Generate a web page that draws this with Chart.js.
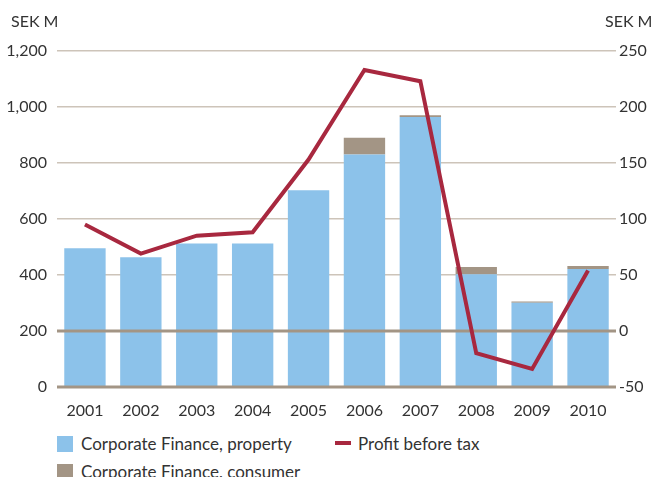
<!DOCTYPE html>
<html><head><meta charset="utf-8">
<script src="https://cdn.jsdelivr.net/npm/chart.js@4/dist/chart.umd.min.js"></script>
<style>
html,body{margin:0;padding:0;background:#fff;width:654px;height:477px;overflow:hidden;font-family:Lato,"Open Sans",sans-serif;}
#wrap{position:absolute;left:0;top:0;width:654px;height:426px;}
.unit{position:absolute;top:11px;font-size:16px;color:#333;}
.leg{position:absolute;font-size:17px;color:#333;white-space:nowrap;}
.sw{display:inline-block;width:16px;height:16px;vertical-align:-2px;margin-right:8px;}
.ln{display:inline-block;width:16px;height:4px;vertical-align:5px;margin-right:7px;}
</style></head>
<body>
<div id="wrap"><canvas id="c"></canvas></div>
<div class="unit" style="left:11px">SEK M</div>
<div class="unit" style="left:605px">SEK M</div>
<div id="legend"></div>
<script>
const categories = ["2001","2002","2003","2004","2005","2006","2007","2008","2009","2010"];
const property = [495, 463, 512, 512, 702, 830, 964, 402, 300, 421];
const consumer = [0, 0, 0, 0, 0, 60, 6, 26, 5, 11];
const profit = [95, 69, 85, 88, 153, 233, 223, -20, -34, 54];
const leftTicks = [0, 200, 400, 600, 800, 1000, 1200];
const rightTicks = [-50, 0, 50, 100, 150, 200, 250];
const emphasisValues = [0, 200];

const BLUE = "#8CC2EA", GREY = "#A39585", RED = "#A8283F";

const emphasis = {
  id: "emphasis",
  beforeDatasetDraw(chart, args) {
    if (args.index !== 2) return;
    const ctx = chart.ctx, ca = chart.chartArea, y = chart.scales.y;
    ctx.save();
    ctx.strokeStyle = GREY;
    ctx.lineWidth = 3;
    emphasisValues.forEach(v => {
      const py = Math.round(y.getPixelForValue(v));
      ctx.beginPath(); ctx.moveTo(ca.left, py); ctx.lineTo(ca.right, py); ctx.stroke();
    });
    ctx.restore();
  }
};

new Chart(document.getElementById("c"), {
  data: {
    labels: categories,
    datasets: [
      {type:"bar", label:"Corporate Finance, property", data: property, backgroundColor: BLUE, stack:"s", yAxisID:"y", order:2, barPercentage:0.74, categoryPercentage:1},
      {type:"bar", label:"Corporate Finance, consumer", data: consumer, backgroundColor: GREY, stack:"s", yAxisID:"y", order:2, barPercentage:0.74, categoryPercentage:1},
      {type:"line", label:"Profit before tax", data: profit, borderColor: RED, borderWidth:4, pointRadius:0, tension:0, yAxisID:"y1", order:0, borderJoinStyle:"miter"}
    ]
  },
  options: {
    responsive:true, maintainAspectRatio:false, animation:false,
    layout:{padding:{top:51, bottom:0, left:0, right:0}},
    plugins:{legend:{display:false}, tooltip:{enabled:false}},
    scales:{
      x:{grid:{display:false}, border:{display:false},
         ticks:{color:"#333", font:{family:"Lato", size:16}, padding:6}},
      y:{position:"left", min:0, max:1200, stacked:true,
         afterBuildTicks(s){ s.ticks = leftTicks.map(v=>({value:v})); },
         afterFit(s){ s.width = 57; },
         grid:{color:"#CDC4B9", lineWidth:1.5, drawTicks:false},
         border:{display:false},
         ticks:{color:"#333", font:{family:"Lato", size:16}, padding:10,
                callback:v=>v.toLocaleString("en-US")}},
      y1:{position:"right", min:-50, max:250,
         afterBuildTicks(s){ s.ticks = rightTicks.map(v=>({value:v})); },
         afterFit(s){ s.width = 38; },
         grid:{display:false, drawTicks:false}, border:{display:false},
         ticks:{color:"#333", font:{family:"Lato", size:16}, padding:3}}
    }
  },
  plugins:[emphasis]
});

const legendItems = [
  {label:"Corporate Finance, property", color:BLUE, kind:"box", left:57, top:433},
  {label:"Profit before tax", color:RED, kind:"line", left:335, top:433},
  {label:"Corporate Finance, consumer", color:GREY, kind:"box", left:57, top:461}
];
const lg = document.getElementById("legend");
legendItems.forEach(it=>{
  const d = document.createElement("div");
  d.className="leg"; d.style.left=it.left+"px"; d.style.top=it.top+"px";
  const m = document.createElement("span");
  m.className = it.kind==="box" ? "sw" : "ln"; m.style.background = it.color;
  d.appendChild(m); d.appendChild(document.createTextNode(it.label));
  lg.appendChild(d);
});
</script>
</body></html>
